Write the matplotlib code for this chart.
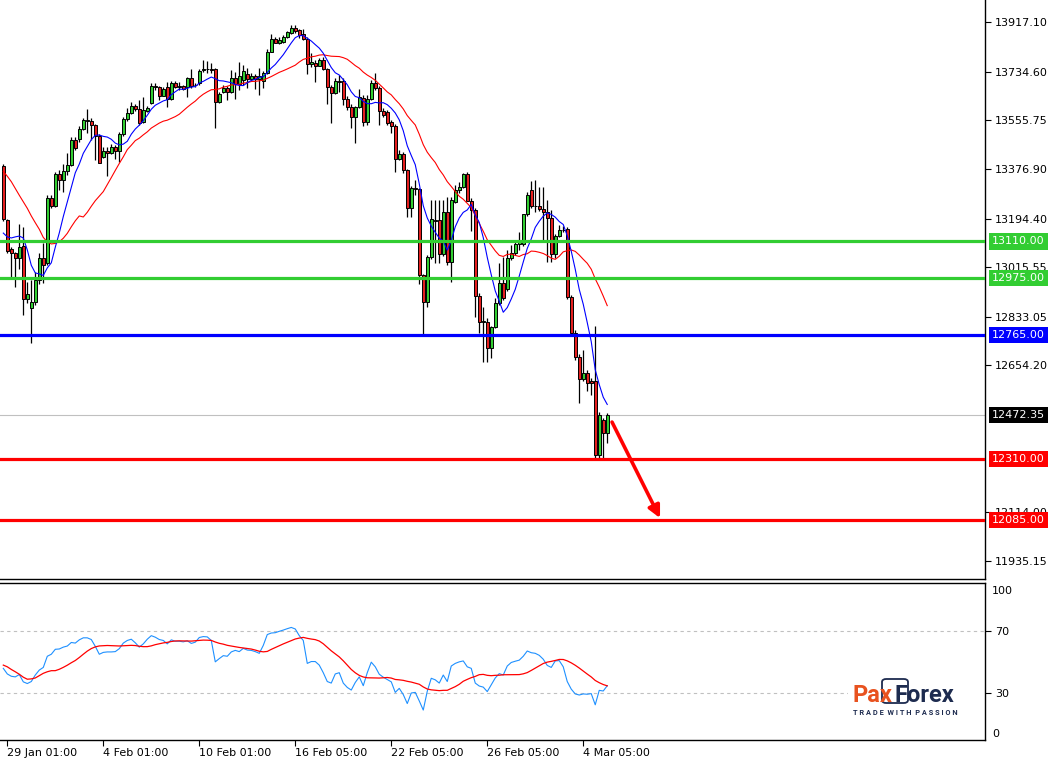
import numpy as np
import pandas as pd
import matplotlib
matplotlib.use("Agg")
import matplotlib.pyplot as plt
import matplotlib.transforms as mtransforms
from matplotlib.patches import FancyBboxPatch, Rectangle

# ---------------- data (H4 candles) ----------------
opens = [13389, 13189, 13082, 13068, 13049, 13093, 12897, 12864, 12889, 12968,
         13048, 13031, 13270, 13240, 13358, 13336, 13370, 13391, 13483, 13487,
         13524, 13554, 13553, 13538, 13498, 13422, 13444, 13434, 13459, 13444,
         13505, 13560, 13582, 13608, 13597, 13550, 13591, 13618, 13682, 13678,
         13646, 13678, 13634, 13693, 13679, 13682, 13678, 13711, 13684, 13693,
         13739, 13744, 13744, 13743, 13624, 13661, 13673, 13661, 13711, 13689,
         13704, 13726, 13708, 13719, 13708, 13701, 13728, 13808, 13855, 13841,
         13845, 13861, 13876, 13894, 13888, 13873, 13855, 13762, 13767, 13756,
         13777, 13743, 13677, 13657, 13701, 13701, 13635, 13606, 13569, 13605,
         13638, 13550, 13634, 13693, 13674, 13591, 13587, 13548, 13535, 13412,
         13431, 13373, 13232, 13306, 13303, 12987, 12889, 13052, 13187, 13189,
         13064, 13220, 13034, 13256, 13299, 13310, 13358, 13260, 13226, 12911,
         12814, 12814, 12717, 12797, 12883, 12958, 12935, 13048, 13067, 13101,
         13101, 13211, 13299, 13240, 13240, 13228, 13218, 13195, 13064, 13130,
         13152, 13155, 12907, 12775, 12686, 12603, 12628, 12598, 12598, 12325,
         12454, 12405]
highs = [13395, 13193, 13091, 13073, 13174, 13164, 12962, 12968, 12998, 13068,
         13104, 13281, 13281, 13366, 13373, 13395, 13435, 13494, 13494, 13535,
         13564, 13597, 13564, 13542, 13505, 13457, 13459, 13468, 13465, 13513,
         13568, 13601, 13623, 13616, 13630, 13641, 13608, 13693, 13693, 13682,
         13678, 13696, 13700, 13700, 13696, 13685, 13715, 13744, 13693, 13744,
         13777, 13774, 13766, 13748, 13660, 13685, 13682, 13741, 13733, 13770,
         13759, 13748, 13730, 13726, 13748, 13737, 13818, 13873, 13862, 13862,
         13869, 13884, 13906, 13906, 13891, 13891, 13862, 13803, 13777, 13785,
         13788, 13748, 13685, 13711, 13722, 13711, 13645, 13616, 13608, 13671,
         13649, 13649, 13704, 13730, 13682, 13601, 13594, 13557, 13542, 13446,
         13439, 13377, 13314, 13336, 13307, 12990, 13060, 13263, 13263, 13263,
         13263, 13274, 13274, 13318, 13329, 13362, 13366, 13270, 13233, 12921,
         12869, 12829, 12799, 12902, 13031, 13053, 13079, 13097, 13116, 13145,
         13207, 13292, 13332, 13336, 13310, 13310, 13263, 13226, 13138, 13171,
         13167, 13163, 12913, 12785, 12696, 12711, 12637, 12608, 12800, 12483,
         12461, 12479]
lows = [13185, 13068, 12976, 12943, 13009, 12841, 12883, 12738, 12876, 12954,
        12957, 13024, 13233, 13237, 13299, 13292, 13354, 13388, 13446, 13476,
        13520, 13509, 13483, 13410, 13399, 13417, 13351, 13432, 13413, 13402,
        13498, 13553, 13579, 13590, 13538, 13546, 13586, 13616, 13667, 13630,
        13645, 13605, 13630, 13674, 13667, 13667, 13641, 13674, 13678, 13685,
        13733, 13730, 13730, 13526, 13619, 13656, 13630, 13656, 13634, 13667,
        13685, 13674, 13700, 13671, 13649, 13674, 13726, 13807, 13840, 13836,
        13840, 13858, 13873, 13877, 13858, 13851, 13725, 13752, 13698, 13755,
        13741, 13616, 13547, 13652, 13660, 13612, 13594, 13527, 13472, 13601,
        13535, 13538, 13630, 13667, 13538, 13568, 13538, 13509, 13367, 13410,
        13362, 13200, 13200, 13281, 12954, 12770, 12869, 13046, 13031, 13031,
        13057, 13024, 12962, 13252, 13288, 13307, 13259, 13150, 12832, 12774,
        12668, 12667, 12682, 12792, 12876, 12895, 12928, 13042, 13060, 13079,
        13093, 13204, 13233, 13218, 13222, 13116, 13035, 13035, 13049, 13127,
        13145, 12899, 12770, 12674, 12516, 12597, 12561, 12546, 12308, 12310,
        12310, 12369]
closes = [13192, 13076, 13068, 13049, 13091, 12897, 12917, 12889, 12968, 13048,
          13024, 13270, 13240, 13358, 13336, 13370, 13391, 13483, 13455, 13524,
          13557, 13557, 13538, 13498, 13400, 13444, 13434, 13459, 13444, 13505,
          13560, 13582, 13608, 13597, 13546, 13593, 13602, 13682, 13678, 13646,
          13671, 13634, 13693, 13679, 13681, 13672, 13711, 13682, 13685, 13738,
          13743, 13745, 13742, 13624, 13652, 13673, 13661, 13711, 13689, 13719,
          13737, 13708, 13719, 13706, 13719, 13731, 13808, 13855, 13841, 13851,
          13863, 13879, 13894, 13885, 13869, 13855, 13762, 13771, 13756, 13777,
          13743, 13677, 13657, 13701, 13696, 13635, 13606, 13569, 13605, 13641,
          13550, 13634, 13693, 13674, 13591, 13575, 13547, 13535, 13412, 13431,
          13373, 13232, 13306, 13303, 12987, 12889, 13052, 13192, 13189, 13064,
          13220, 13034, 13263, 13299, 13310, 13358, 13260, 13226, 12911, 12814,
          12818, 12717, 12797, 12883, 12958, 12901, 13048, 13067, 13101, 13108,
          13211, 13281, 13240, 13239, 13228, 13218, 13196, 13064, 13130, 13152,
          13154, 12907, 12775, 12686, 12603, 12628, 12591, 12591, 12325, 12472,
          12405, 12472]

# moving-average values of the first bars (before the window is full)
ma8_head = [13141, 13127, 13123, 13127, 13130, 13123, 13079]
ma21_head = [13368, 13350, 13330, 13305, 13280, 13256, 13232, 13204, 13179, 13155,
             13125, 13109, 13101, 13103, 13109, 13122, 13140, 13164, 13186, 13204]

rsi = [45.9, 42.3, 40.8, 40.4, 41.9, 37.2, 36.1, 37.4, 41.6, 44.8,
       46.5, 53.7, 55.0, 58.2, 58.4, 59.6, 60.3, 62.6, 62.2, 64.3,
       65.6, 65.6, 64.5, 60.1, 55.0, 56.2, 56.5, 56.5, 56.7, 58.6,
       62.2, 63.9, 64.7, 62.4, 59.6, 61.7, 64.7, 67.0, 66.0, 64.5,
       63.9, 61.7, 64.3, 63.4, 63.4, 63.0, 63.7, 62.0, 62.8, 65.8,
       66.4, 66.2, 63.9, 50.1, 52.2, 54.1, 53.7, 56.5, 57.5, 56.7,
       58.8, 57.7, 57.5, 56.7, 55.6, 60.7, 67.7, 68.7, 68.9, 69.8,
       70.6, 71.5, 72.3, 71.3, 67.0, 63.9, 49.1, 50.3, 50.3, 48.0,
       43.1, 37.4, 36.4, 42.3, 43.1, 36.4, 33.6, 31.9, 36.8, 40.4,
       34.7, 43.1, 49.9, 46.9, 42.1, 40.2, 38.7, 37.2, 30.4, 33.0,
       29.0, 23.2, 30.0, 30.4, 24.9, 19.0, 31.1, 39.5, 38.5, 36.4,
       41.6, 37.4, 47.4, 49.1, 50.1, 50.7, 46.9, 45.9, 36.4, 34.5,
       33.8, 30.9, 35.3, 39.7, 42.5, 41.6, 47.4, 49.7, 50.5, 51.2,
       53.7, 57.1, 56.0, 55.6, 54.3, 51.8, 47.8, 46.5, 50.7, 50.9,
       46.9, 37.4, 32.5, 29.4, 28.7, 29.4, 29.2, 29.6, 22.4, 31.7,
       31.3, 34.7]
rsi_sig_head = [48.0, 46.9, 45.2, 43.7, 42.1, 40.2, 38.9, 39.1, 39.7, 41.2, 42.7, 43.7, 44.4]

levels = [13110.00, 12975.00, 12765.00, 12310.00, 12085.00]
level_colors = ['#32cd32', '#32cd32', '#0000ff', '#ff0000', '#ff0000']
last_price = 12472.35
price_ticks = [13917.10, 13734.60, 13555.75, 13376.90, 13194.40, 13015.55,
               12833.05, 12654.20, 12114.00, 11935.15]
date_ticks = [1, 25, 49, 73, 97, 121, 145]
date_labels = ['29 Jan 01:00', '4 Feb 01:00', '10 Feb 01:00', '16 Feb 05:00',
               '22 Feb 05:00', '26 Feb 05:00', '4 Mar 05:00']
arrow_start = (152.2, 12446)
arrow_end = (164.2, 12093)

# ---------------- derived series ----------------
cs = pd.Series(closes, dtype=float)
ma8 = cs.rolling(8).mean().to_numpy()
ma8[:len(ma8_head)] = ma8_head
ma21 = cs.rolling(21).mean().to_numpy()
ma21[:len(ma21_head)] = ma21_head
rsi_sig = pd.Series(rsi).rolling(14).mean().to_numpy()
rsi_sig[:len(rsi_sig_head)] = rsi_sig_head

plt.rcParams['font.family'] = ['DejaVu Sans']
W, H = 1054, 760
fig = plt.figure(figsize=(W / 100, H / 100), dpi=100)
fig.patch.set_facecolor('white')

def frame(x0, y0, x1, y1):
    return [x0 / W, 1 - y1 / H, (x1 - x0) / W, (y1 - y0) / H]

ax = fig.add_axes(frame(0, 0, 985, 579))
ax2 = fig.add_axes(frame(0, 583, 985, 740))

n = len(closes)
x = np.arange(n)
o = np.array(opens, float); c = np.array(closes, float)
hi = np.array(highs, float); lo = np.array(lows, float)
up = c >= o

ax.vlines(x, lo, hi, color='black', lw=0.9, zorder=2)
body_bottom = np.minimum(o, c)
body_h = np.maximum(np.abs(c - o), 1.0)
ax.bar(x, body_h, bottom=body_bottom, width=0.7,
       color=np.where(up, '#32cd32', '#e41f1f'), edgecolor='black',
       linewidth=0.7, zorder=3)

ax.plot(x, ma21, color='#ff0000', lw=0.8, zorder=4)
ax.plot(x, ma8, color='#0000ff', lw=0.8, zorder=4)

ax.axhline(last_price, color='#c0c0c0', lw=0.8, zorder=1)
for lv, col in zip(levels, level_colors):
    ax.axhline(lv, color=col, lw=2.3, zorder=5)

ax.annotate('', xy=arrow_end, xytext=arrow_start,
            arrowprops=dict(arrowstyle='-|>', color='#ff0000', lw=2.6,
                            mutation_scale=18, shrinkA=0, shrinkB=0), zorder=6)

ax.set_xlim(-0.825, 245.45)
ax.set_ylim(11869.0, 13998.0)
ax.set_xticks([])
ax.yaxis.tick_right()
ax.set_yticks(price_ticks)
ax.set_yticklabels([f'{v:.2f}' for v in price_ticks])
ax.tick_params(axis='y', direction='out', length=4, width=0.8, pad=3,
               labelsize=8, colors='black')
for s in ['left', 'top']:
    ax.spines[s].set_visible(False)
for s in ['right', 'bottom']:
    ax.spines[s].set_color('black')
    ax.spines[s].set_linewidth(1.0)

trans = mtransforms.blended_transform_factory(ax.transAxes, ax.transData)
box_labels = [(lv, f'{lv:.2f}', col) for lv, col in zip(levels, level_colors)]
box_labels.append((last_price, f'{last_price:.2f}', '#000000'))
for val, txt, col in box_labels:
    ax.text(1.0071, val, txt, transform=trans, ha='left', va='center',
            fontsize=8, color='white', clip_on=False, zorder=10,
            bbox=dict(boxstyle='square,pad=0.28', fc=col, ec='none'))

# ---------------- RSI panel ----------------
ax2.plot(x, rsi, color='#1e90ff', lw=0.8, zorder=3)
ax2.plot(x, rsi_sig, color='#ff0000', lw=0.9, zorder=3)
for lv in (70, 30):
    ax2.axhline(lv, color='#c0c0c0', lw=0.8, ls=(0, (3, 3)), zorder=1)
ax2.set_xlim(-0.825, 245.45)
ax2.set_ylim(-0.32, 100.97)
ax2.yaxis.tick_right()
ax2.set_yticks([70, 30])
ax2.set_yticklabels(['70', '30'])
ax2.tick_params(axis='y', direction='out', length=4, width=0.8, pad=3, labelsize=8)
ax2.text(1.0071, 99, '100', transform=ax2.get_yaxis_transform(), ha='left',
         va='top', fontsize=8, clip_on=False)
ax2.text(1.0071, 0.5, '0', transform=ax2.get_yaxis_transform(), ha='left',
         va='bottom', fontsize=8, clip_on=False)
ax2.set_xticks(date_ticks)
ax2.set_xticklabels(date_labels, ha='left')
ax2.tick_params(axis='x', direction='out', length=4, width=0.8, pad=2, labelsize=8)
ax2.spines['left'].set_visible(False)
for s in ['right', 'bottom', 'top']:
    ax2.spines[s].set_color('black')
    ax2.spines[s].set_linewidth(1.0)

# ---------------- logo ----------------
fig.patches.append(Rectangle((848 / W, 1 - 722 / H), 136 / W, 52 / H,
                             transform=fig.transFigure, fc='white', ec='none', zorder=5))
fig.text(852 / W, 1 - 702 / H, 'Pax', fontsize=17, fontweight='bold', color='#e8521f',
         family='Roboto', ha='left', va='baseline', zorder=6)
fig.text(894 / W, 1 - 702 / H, 'Forex', fontsize=17, fontweight='bold', color='#1d2b4f',
         family='Roboto', ha='left', va='baseline', zorder=6)
fig.patches.append(FancyBboxPatch((882 / W, 1 - 703 / H), 26 / W, 24 / H,
                                  boxstyle='round,pad=0,rounding_size=0.004',
                                  transform=fig.transFigure, fc='none', ec='#1d2b4f',
                                  lw=1.3, zorder=6))
fig.text(853 / W, 1 - 715 / H, 'T R A D E  W I T H  P A S S I O N', fontsize=5.3,
         fontweight='bold', color='#1d2b4f', family='Roboto', ha='left',
         va='baseline', zorder=6)

fig.savefig('out.png', dpi=100, facecolor='white')
